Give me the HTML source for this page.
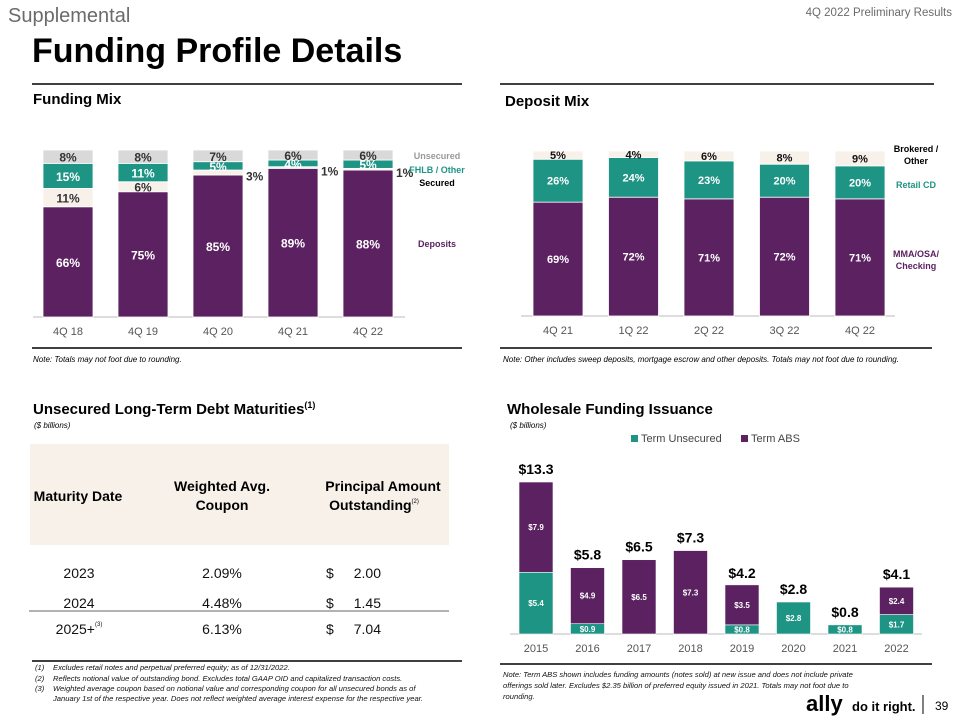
<!DOCTYPE html>
<html><head><meta charset="utf-8">
<style>
html,body{margin:0;padding:0;background:#fff;}
body{width:960px;height:720px;overflow:hidden;position:relative;font-family:"Liberation Sans",Arial,sans-serif;}
svg{position:absolute;left:0;top:0;}
</style></head>
<body>
<svg id="page" width="960" height="720" viewBox="0 0 960 720" font-family="Liberation Sans, Arial, sans-serif">
  <text x="8" y="22" font-size="20" fill="#6b6b6b">Supplemental</text>
  <text x="952" y="16" font-size="11.5" fill="#6b6b6b" text-anchor="end">4Q 2022 Preliminary Results</text>
  <text x="32" y="62" font-size="34" font-weight="bold" fill="#000">Funding Profile Details</text>

  <line x1="32" y1="84" x2="462" y2="84" stroke="#000" stroke-width="1.5"/>
  <text x="33" y="104" font-size="15" font-weight="bold">Funding Mix</text>
  <line x1="500" y1="84" x2="934" y2="84" stroke="#000" stroke-width="1.5"/>
  <text x="505" y="106" font-size="15" font-weight="bold">Deposit Mix</text>

  <g id="fm"></g>
  <g id="dm"></g>

  <line x1="32" y1="348" x2="462" y2="348" stroke="#000" stroke-width="1.5"/>
  <text x="33" y="362" font-size="8" font-style="italic">Note: Totals may not foot due to rounding.</text>
  <line x1="500" y1="348" x2="932" y2="348" stroke="#000" stroke-width="1.5"/>
  <text x="503" y="362" font-size="8" font-style="italic">Note: Other includes sweep deposits, mortgage escrow and other deposits. Totals may not foot due to rounding.</text>

  <text x="33" y="414" font-size="15" font-weight="bold">Unsecured Long-Term Debt Maturities<tspan font-size="9" dy="-6">(1)</tspan></text>
  <text x="34" y="428" font-size="8" font-style="italic">($ billions)</text>
  <text x="507" y="414" font-size="15" font-weight="bold">Wholesale Funding Issuance</text>
  <text x="510" y="428" font-size="8" font-style="italic">($ billions)</text>

  <g>
    <rect x="30" y="444" width="419" height="101" fill="#f7f1ea"/>
    <text x="78" y="501" font-size="14" font-weight="bold" text-anchor="middle">Maturity Date</text>
    <text x="222" y="491" font-size="14" font-weight="bold" text-anchor="middle"><tspan x="222">Weighted Avg.</tspan><tspan x="222" dy="19">Coupon</tspan></text>
    <text x="383" y="491" font-size="14" font-weight="bold" text-anchor="middle"><tspan x="383">Principal Amount</tspan><tspan x="374" dy="19">Outstanding</tspan><tspan font-size="6" font-weight="normal" dy="-7">(2)</tspan></text>
    <g font-size="14" fill="#111">
      <text x="79" y="578" text-anchor="middle">2023</text>
      <text x="222" y="578" text-anchor="middle">2.09%</text>
      <text x="326" y="578">$</text>
      <text x="381" y="578" text-anchor="end">2.00</text>
      <text x="79" y="608" text-anchor="middle">2024</text>
      <text x="222" y="608" text-anchor="middle">4.48%</text>
      <text x="326" y="608">$</text>
      <text x="381" y="608" text-anchor="end">1.45</text>
      <text x="79" y="634" text-anchor="middle">2025+<tspan font-size="6" dy="-8">(3)</tspan></text>
      <text x="222" y="634" text-anchor="middle">6.13%</text>
      <text x="326" y="634">$</text>
      <text x="381" y="634" text-anchor="end">7.04</text>
    </g>
    <line x1="29" y1="611" x2="449" y2="611" stroke="#666" stroke-width="1"/>
  </g>

  <line x1="32" y1="661" x2="462" y2="661" stroke="#000" stroke-width="1.5"/>
  <g font-size="7.6" font-style="italic" fill="#111">
    <text x="35" y="670">(1)</text><text x="53" y="670">Excludes retail notes and perpetual preferred equity; as of 12/31/2022.</text>
    <text x="35" y="681">(2)</text><text x="53" y="681">Reflects notional value of outstanding bond. Excludes total GAAP OID and capitalized transaction costs.</text>
    <text x="35" y="691">(3)</text><text x="53" y="691">Weighted average coupon based on notional value and corresponding coupon for all unsecured bonds as of</text>
    <text x="53" y="701">January 1st of the respective year. Does not reflect weighted average interest expense for the respective year.</text>
  </g>

  <g id="wf"></g>
  <line x1="500" y1="664" x2="932" y2="664" stroke="#000" stroke-width="1.5"/>
  <g font-size="7.6" font-style="italic" fill="#111">
    <text x="503" y="677">Note: Term ABS shown includes funding amounts (notes sold) at new issue and does not include private</text>
    <text x="503" y="688">offerings sold later. Excludes $2.35 billion of preferred equity issued in 2021. Totals may not foot due to</text>
    <text x="503" y="699">rounding.</text>
  </g>

  <g>
    <text x="806" y="711" font-size="22" font-weight="bold" fill="#000">ally</text>
    <text x="852" y="711" font-size="13" font-weight="bold" fill="#000">do it right.</text>
    <line x1="923" y1="695" x2="923" y2="714" stroke="#000" stroke-width="1"/>
    <text x="935" y="710" font-size="12" fill="#000">39</text>
  </g>
</svg>
<script>
// Funding Mix data
const fmCats = ["4Q 18","4Q 19","4Q 20","4Q 21","4Q 22"];
const fmDeposits = [66,75,85,89,88];
const fmSecured = [11,6,3,1,1];
const fmFhlb = [15,11,5,4,5];
const fmUnsecured = [8,8,7,6,6];
// Deposit Mix data
const dmCats = ["4Q 21","1Q 22","2Q 22","3Q 22","4Q 22"];
const dmChecking = [69,72,71,72,71];
const dmCD = [26,24,23,20,20];
const dmOther = [5,4,6,8,9];
// Wholesale Funding data
const wfYears = ["2015","2016","2017","2018","2019","2020","2021","2022"];
const wfUnsecured = [5.4,0.9,0,0,0.8,2.8,0.8,1.7];
const wfABS = [7.9,4.9,6.5,7.3,3.5,0,0,2.4];
const wfTotals = [13.3,5.8,6.5,7.3,4.2,2.8,0.8,4.1];

const NS="http://www.w3.org/2000/svg";
const PURPLE="#5b2160", TEAL="#1e9484", CREAM="#f8f1ea", GRAY="#d9d9d9";
function mk(tag,attrs,parent,txt){const e=document.createElementNS(NS,tag);for(const k in attrs)e.setAttribute(k,attrs[k]);if(txt!==undefined)e.textContent=txt;parent.appendChild(e);return e;}

// ---- Funding mix
(function(){
  const g=document.getElementById('fm');
  const base=317, h100=167, x0=43, step=75, w=50;
  const y=v=>v/100*h100;
  mk('line',{x1:33,y1:base,x2:405,y2:base,stroke:'#bbb','stroke-width':1},g);
  const series=[[fmDeposits,PURPLE,'#fff','deposits'],[fmSecured,CREAM,'#333','secured'],[fmFhlb,TEAL,'#fff','fhlb'],[fmUnsecured,GRAY,'#333','unsecured']];
  fmCats.forEach((c,i)=>{
    const x=x0+i*step; let cum=0;
    series.forEach(([arr,col,tc,nm])=>{
      const v=arr[i], hh=y(v), top=base-y(cum)-hh;
      const r=mk('rect',{x:x,y:top,width:w,height:hh,fill:col,stroke:'#fff','stroke-width':0.8},g);
      
      
      let tx=x+w/2, ty=top+hh/2+5, anchor='middle', fill=tc;
      if(nm==='secured' && v<5){tx=x+w+3; ty=top+hh/2+8; anchor='start'; fill='#333';}
      const t=mk('text',{x:tx,y:ty,'font-size':12,'font-weight':'bold','text-anchor':anchor,fill:fill},g,v+'%');
      
      
      cum+=v;
    });
    const xl=mk('text',{x:x+w/2,y:base+18,'font-size':11,fill:'#555','text-anchor':'middle'},g,c);
    
    
  });
  const leg=[["Unsecured","#999",159],["FHLB / Other",TEAL,173],["Secured","#000",186],["Deposits",PURPLE,247]];
  leg.forEach(([t,c,yy])=>{const e=mk('text',{x:437,y:yy,'font-size':9,'font-weight':'bold',fill:c,'text-anchor':'middle'},g,t);
    
    });
})();

// ---- Deposit mix
(function(){
  const g=document.getElementById('dm');
  const base=316, h100=165, x0=533, step=75.5, w=50;
  const y=v=>v/100*h100;
  mk('line',{x1:521,y1:base,x2:895,y2:base,stroke:'#bbb','stroke-width':1},g);
  const series=[[dmChecking,PURPLE,'#fff','checking'],[dmCD,TEAL,'#fff','retail-cd'],[dmOther,CREAM,'#111','brokered']];
  dmCats.forEach((c,i)=>{
    const x=x0+i*step; let cum=0;
    series.forEach(([arr,col,tc,nm])=>{
      const v=arr[i], hh=y(v), top=base-y(cum)-hh;
      const r=mk('rect',{x:x,y:top,width:w,height:hh,fill:col,stroke:'#fff','stroke-width':0.8},g);
      
      
      const t=mk('text',{x:x+w/2,y:top+hh/2+4,'font-size':11,'font-weight':'bold','text-anchor':'middle',fill:tc},g,v+'%');
      
      
      cum+=v;
    });
    const xl=mk('text',{x:x+w/2,y:base+18,'font-size':11,fill:'#555','text-anchor':'middle'},g,c);
    
    
  });
  const leg=[["Brokered /","#000",152],["Other","#000",164],["Retail CD",TEAL,188],["MMA/OSA/",PURPLE,257],["Checking",PURPLE,269]];
  leg.forEach(([t,c,yy])=>{const e=mk('text',{x:916,y:yy,'font-size':9,'font-weight':'bold',fill:c,'text-anchor':'middle'},g,t);
    
    });
})();

// ---- Wholesale funding
(function(){
  const g=document.getElementById('wf');
  const base=634, k=152/13.3, x0=519, step=51.5, w=34;
  const y=v=>v*k;
  mk('rect',{x:631,y:435,width:7,height:7,fill:TEAL},g);
  let e=mk('text',{x:641,y:442,'font-size':11,fill:'#444'},g,'Term Unsecured');
  
  
  mk('rect',{x:741,y:435,width:7,height:7,fill:PURPLE},g);
  e=mk('text',{x:751,y:442,'font-size':11,fill:'#444'},g,'Term ABS');
  
  
  mk('line',{x1:510,y1:base,x2:922,y2:base,stroke:'#bbb','stroke-width':1},g);
  wfYears.forEach((yr,i)=>{
    const x=x0+i*step;
    const hu=y(wfUnsecured[i]), ha=y(wfABS[i]);
    if(wfUnsecured[i]>0){
      const r=mk('rect',{x:x,y:base-hu,width:w,height:hu,fill:TEAL,stroke:'#fff','stroke-width':0.6},g);
      
      
      const t=mk('text',{x:x+w/2,y:base-hu/2+3,'font-size':8,'font-weight':'bold',fill:'#fff','text-anchor':'middle'},g,'$'+wfUnsecured[i].toFixed(1));
      
      
    }
    if(wfABS[i]>0){
      const r=mk('rect',{x:x,y:base-hu-ha,width:w,height:ha,fill:PURPLE,stroke:'#fff','stroke-width':0.6},g);
      
      
      const t=mk('text',{x:x+w/2,y:base-hu-ha/2+3,'font-size':8,'font-weight':'bold',fill:'#fff','text-anchor':'middle'},g,'$'+wfABS[i].toFixed(1));
      
      
    }
    const tt=mk('text',{x:x+w/2,y:base-y(wfTotals[i])-8,'font-size':14,'font-weight':'bold',fill:'#000','text-anchor':'middle'},g,'$'+wfTotals[i].toFixed(1));
    
    
    const xl=mk('text',{x:x+w/2,y:base+18,'font-size':11,fill:'#555','text-anchor':'middle'},g,yr);
    
    
  });
})();
</script>
</body></html>
